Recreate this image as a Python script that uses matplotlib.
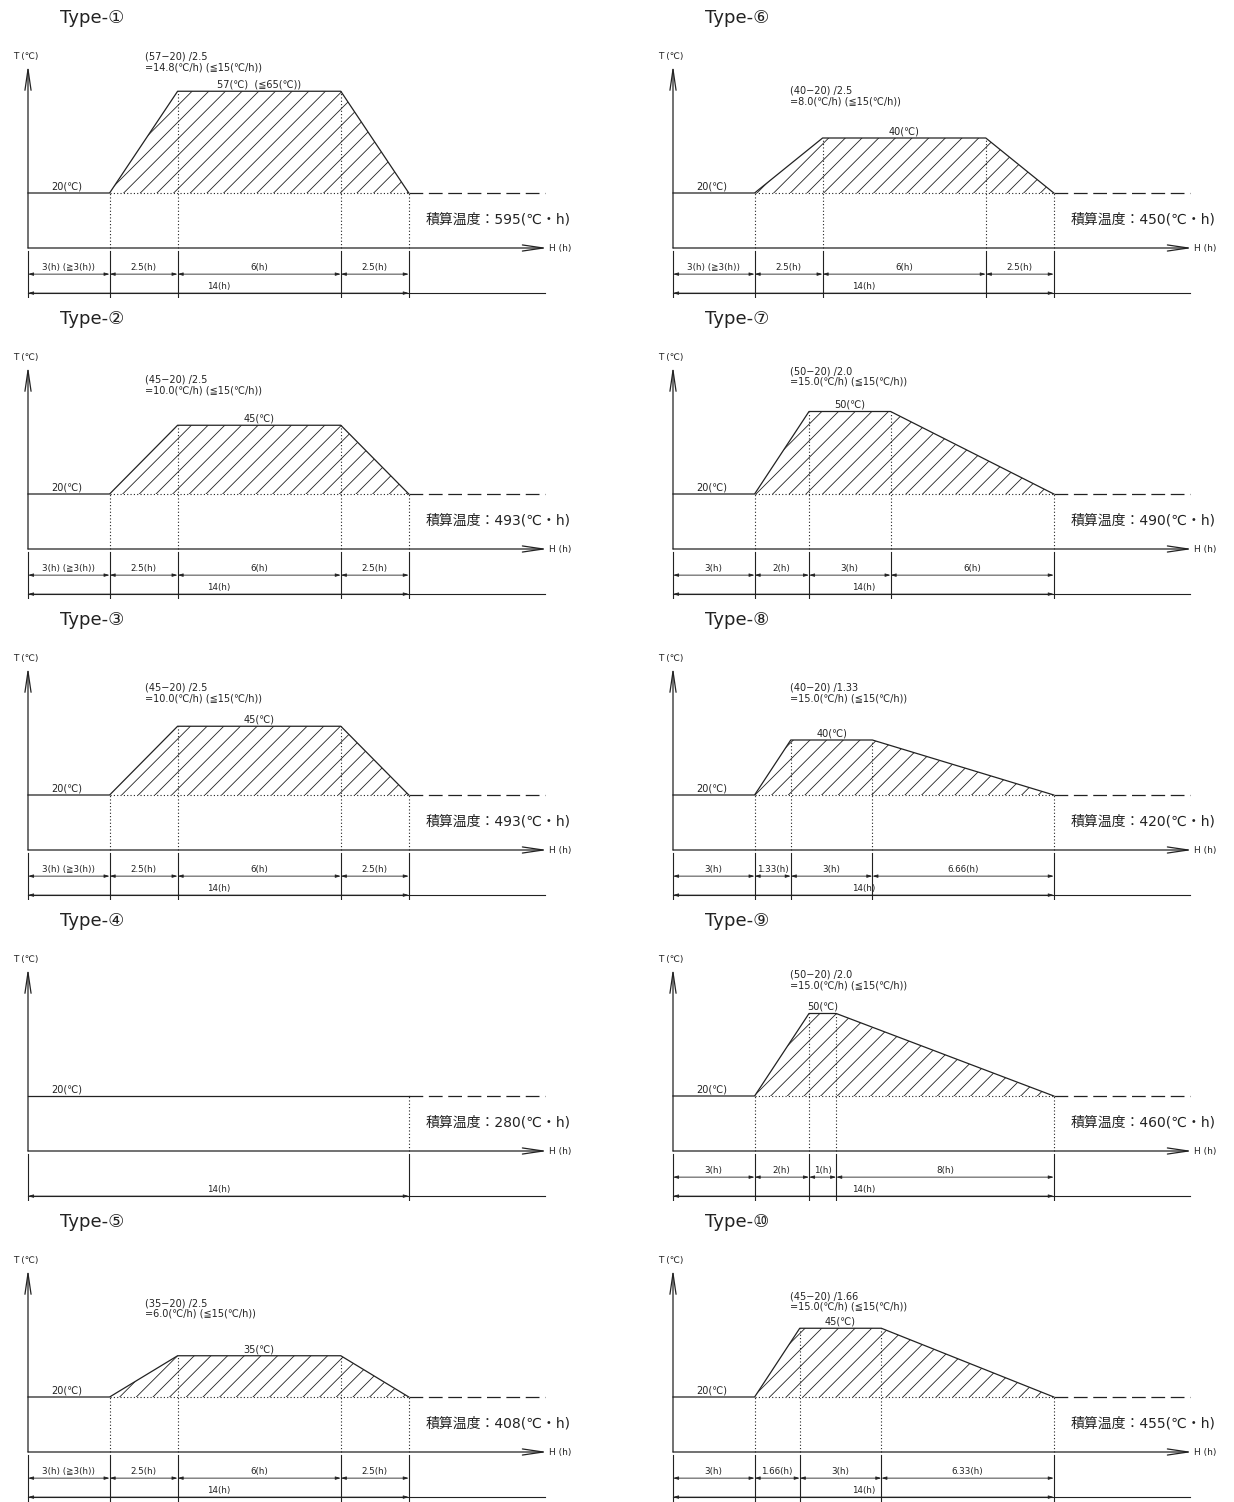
import matplotlib
matplotlib.use('Agg')
import matplotlib.pyplot as plt

plt.rcParams['font.family'] = ['DejaVu Sans', 'Noto Sans CJK JP']
plt.rcParams['hatch.linewidth'] = 0.6

# data (hours / deg C)
type_marks = ['①', '②', '③', '④', '⑤', '⑥', '⑦', '⑧', '⑨', '⑩']
base_temp = 20
peak_temps = [57, 45, 45, None, 35, 40, 50, 40, 50, 45]
segments = [
    [3, 2.5, 6, 2.5],
    [3, 2.5, 6, 2.5],
    [3, 2.5, 6, 2.5],
    [14],
    [3, 2.5, 6, 2.5],
    [3, 2.5, 6, 2.5],
    [3, 2, 3, 6],
    [3, 1.33, 3, 6.67],
    [3, 2, 1, 8],
    [3, 1.66, 3, 6.34],
]
segment_labels = [
    ['3(h) (≧3(h))', '2.5(h)', '6(h)', '2.5(h)'],
    ['3(h) (≧3(h))', '2.5(h)', '6(h)', '2.5(h)'],
    ['3(h) (≧3(h))', '2.5(h)', '6(h)', '2.5(h)'],
    [],
    ['3(h) (≧3(h))', '2.5(h)', '6(h)', '2.5(h)'],
    ['3(h) (≧3(h))', '2.5(h)', '6(h)', '2.5(h)'],
    ['3(h)', '2(h)', '3(h)', '6(h)'],
    ['3(h)', '1.33(h)', '3(h)', '6.66(h)'],
    ['3(h)', '2(h)', '1(h)', '8(h)'],
    ['3(h)', '1.66(h)', '3(h)', '6.33(h)'],
]
peak_labels = ['57(℃)  (≦65(℃))', '45(℃)', '45(℃)', '', '35(℃)',
               '40(℃)', '50(℃)', '40(℃)', '50(℃)', '45(℃)']
rate_lines = [
    ('(57−20) /2.5', '=14.8(℃/h) (≦15(℃/h))'),
    ('(45−20) /2.5', '=10.0(℃/h) (≦15(℃/h))'),
    ('(45−20) /2.5', '=10.0(℃/h) (≦15(℃/h))'),
    None,
    ('(35−20) /2.5', '=6.0(℃/h) (≦15(℃/h))'),
    ('(40−20) /2.5', '=8.0(℃/h) (≦15(℃/h))'),
    ('(50−20) /2.0', '=15.0(℃/h) (≦15(℃/h))'),
    ('(40−20) /1.33', '=15.0(℃/h) (≦15(℃/h))'),
    ('(50−20) /2.0', '=15.0(℃/h) (≦15(℃/h))'),
    ('(45−20) /1.66', '=15.0(℃/h) (≦15(℃/h))'),
]
rate_label_y = [71.5, 63.5, 61.0, None, 56.0, 59.0, 66.5, 61.0, 66.0, 58.5]
integrated = [595, 493, 493, 280, 408, 450, 490, 420, 460, 455]
total_hours = 14
extend_hours = 19

# layout in pixels
W, H = 1234, 1502
px_h, px_c = 27.2, 2.75      # px per hour, px per degree
pw, ph = 600, 298
axis_off_x, axis_off_y = 28, 248
col_x = [0, 645]
row_step = 301

fig = plt.figure(figsize=(W / 100, H / 100), dpi=100)
fig.patch.set_facecolor('white')
lc = '#222222'
dots = (0, (1, 2))

for i in range(10):
    col, row = divmod(i, 5)
    x0 = col_x[col]
    y0 = row * row_step
    ax = fig.add_axes([x0 / W, 1 - (y0 + ph) / H, pw / W, ph / H])
    ax.set_xlim(-axis_off_x / px_h, (pw - axis_off_x) / px_h)
    ax.set_ylim(-(ph - axis_off_y) / px_c, axis_off_y / px_c)
    ax.axis('off')

    segs = segments[i]
    bps = [0]
    for s in segs:
        bps.append(bps[-1] + s)
    peak = peak_temps[i]

    # title
    ax.text(1.18, 83.6, 'Type-' + type_marks[i], fontsize=13, color=lc, va='center', ha='left')

    # axes arrows
    arr = dict(arrowstyle='->,head_length=1.5,head_width=0.22', lw=0.9, color=lc,
               shrinkA=0, shrinkB=0)
    ax.annotate('', xy=(0, 66.5), xytext=(0, 0), arrowprops=arr)
    ax.annotate('', xy=(19.1, 0), xytext=(0, 0), arrowprops=arr)
    ax.text(-0.1, 69.5, 'T (℃)', fontsize=6.5, color=lc, ha='center', va='center')
    ax.text(19.15, -0.2, 'H (h)', fontsize=6.5, color=lc, ha='left', va='center')

    # temperature profile
    if peak is None:
        xs = [0, total_hours]
        ys = [base_temp, base_temp]
        ax.plot([total_hours, total_hours], [0, base_temp], color=lc, lw=0.8, ls=dots)
    else:
        xs = [0, bps[1], bps[2], bps[3], bps[4]]
        ys = [base_temp, base_temp, peak, peak, base_temp]
        ax.fill(xs[1:], ys[1:], facecolor='none', edgecolor=lc, hatch='//', linewidth=0)
        ax.plot([bps[1], bps[4]], [base_temp, base_temp], color=lc, lw=0.8, ls=dots)
        for b, t in zip(bps[1:], ys[1:]):
            ax.plot([b, b], [0, t], color=lc, lw=0.8, ls=dots)
        ax.text((bps[2] + bps[3]) / 2, peak + 0.6, peak_labels[i], fontsize=7, color=lc,
                ha='center', va='bottom')
        r1, r2 = rate_lines[i]
        ax.text(4.3, rate_label_y[i], r1 + '\n' + r2, fontsize=7, color=lc, ha='left', va='top',
                linespacing=1.1)
    ax.plot(xs, ys, color=lc, lw=0.9)
    ax.plot([total_hours, extend_hours], [base_temp, base_temp], color=lc, lw=0.9, ls=(0, (11, 4.5)))
    ax.text(1.43, base_temp + 0.6, '20(℃)', fontsize=7, color=lc, ha='center', va='bottom')

    ax.text(14.6, 10.2, '積算温度：%d(℃・h)' % integrated[i], fontsize=10, color=lc,
            ha='left', va='center')

    # extension lines
    for b in bps:
        ax.plot([b, b], [-1.2, -17.8], color=lc, lw=0.8)

    dim = dict(arrowstyle='<|-|>,head_length=0.5,head_width=0.15', lw=0.6,
               color=lc, shrinkA=0, shrinkB=0, mutation_scale=6)
    # segment dimensions
    if segment_labels[i]:
        for a, b, lab in zip(bps[:-1], bps[1:], segment_labels[i]):
            ax.annotate('', xy=(b, -9.5), xytext=(a, -9.5), arrowprops=dim)
            ax.text((a + b) / 2, -8.6, lab, fontsize=6.3, color=lc, ha='center', va='bottom')

    # total dimension
    ax.plot([0, extend_hours], [-16.4, -16.4], color=lc, lw=0.8)
    ax.annotate('', xy=(total_hours, -16.4), xytext=(0, -16.4), arrowprops=dim)
    ax.text(total_hours / 2, -15.5, '%d(h)' % total_hours, fontsize=6.3, color=lc,
            ha='center', va='bottom')

fig.savefig('out.png', dpi=100, facecolor='white')
